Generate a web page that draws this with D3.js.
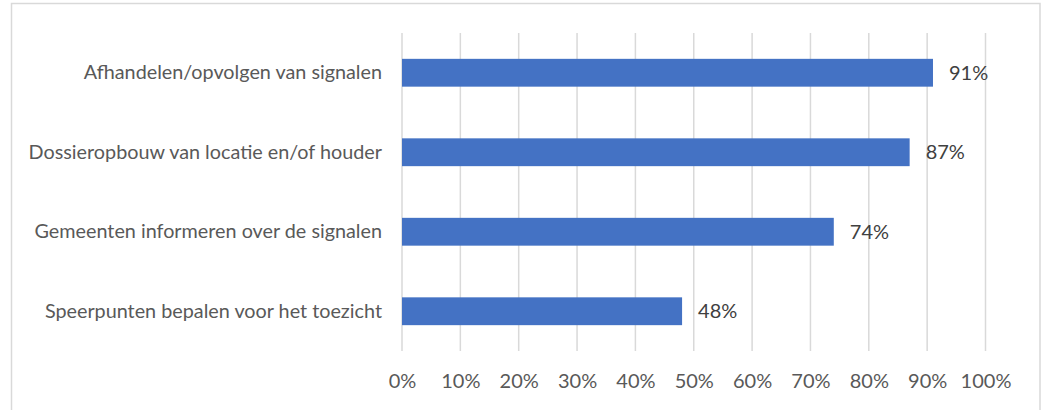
<!DOCTYPE html>
<html>
<head>
<meta charset="utf-8">
<script src="https://cdn.jsdelivr.net/npm/d3@7"></script>
<style>
  body { margin: 0; background: #fff; }
  text { font-family: Lato, "Open Sans", sans-serif; }
</style>
</head>
<body>
<div id="chart"></div>
<script>
const categories = [
    "Afhandelen/opvolgen van signalen",
    "Dossieropbouw van locatie en/of houder",
    "Gemeenten informeren over de signalen",
    "Speerpunten bepalen voor het toezicht"
];
const values = [0.91, 0.87, 0.74, 0.48];
const ticks = [0, 0.1, 0.2, 0.3, 0.4, 0.5, 0.6, 0.7, 0.8, 0.9, 1.0];

const width = 1043;
const height = 410;
const margin = { top: 33, right: 57.5, bottom: 59, left: 402 };

let svg = d3.select("#chart").append("svg")
    .attr("width", width)
    .attr("height", height);

// chart frame (bottom runs off the picture)
svg.append("rect")
    .attr("x", 11.5)
    .attr("y", 3.5)
    .attr("width", 1028.5)
    .attr("height", 420)
    .attr("fill", "none")
    .attr("stroke", "#d9d9d9")
    .attr("stroke-width", 1.5);

let x = d3.scaleLinear()
    .domain([0, 1])
    .range([margin.left, width - margin.right]);

let y = d3.scaleBand()
    .domain(categories)
    .range([margin.top, height - margin.bottom])
    .paddingInner(0.65)
    .paddingOuter(0.325);

// gridlines
svg.append("g")
    .selectAll("line")
    .data(ticks)
    .enter().append("line")
    .attr("x1", d => x(d))
    .attr("x2", d => x(d))
    .attr("y1", margin.top)
    .attr("y2", height - margin.bottom)
    .attr("stroke", "#d9d9d9")
    .attr("stroke-width", 1.5);

// x tick labels
let xAxis = d3.axisBottom(x)
    .tickValues(ticks)
    .tickFormat(d3.format(".0%"))
    .tickSize(0)
    .tickPadding(0);

svg.append("g")
    .attr("transform", "translate(0," + (height - margin.bottom + 23) + ")")
    .call(xAxis)
    .call(g => g.select(".domain").remove())
    .call(g => g.selectAll("text")
        .attr("fill", "#595959")
        .attr("font-size", 20)
        .attr("font-family", "Lato, sans-serif"));

// y category labels
let yAxis = d3.axisLeft(y)
    .tickSize(0)
    .tickPadding(20);

svg.append("g")
    .attr("transform", "translate(" + margin.left + ",0)")
    .call(yAxis)
    .call(g => g.select(".domain").remove())
    .call(g => g.selectAll("text")
        .attr("fill", "#595959")
        .attr("font-size", 19.8)
        .attr("font-family", "Lato, sans-serif"));

// bars
svg.append("g")
    .selectAll("rect")
    .data(values)
    .enter().append("rect")
    .attr("x", x(0))
    .attr("y", (d, i) => y(categories[i]))
    .attr("width", d => x(d) - x(0))
    .attr("height", y.bandwidth())
    .attr("fill", "#4472c4");

// value labels
svg.append("g")
    .selectAll("text")
    .data(values)
    .enter().append("text")
    .attr("x", d => x(d) + 16)
    .attr("y", (d, i) => y(categories[i]) + y.bandwidth() / 2)
    .attr("dy", "0.35em")
    .attr("fill", "#404040")
    .attr("font-size", 20)
    .text(d => d3.format(".0%")(d));
</script>
</body>
</html>
